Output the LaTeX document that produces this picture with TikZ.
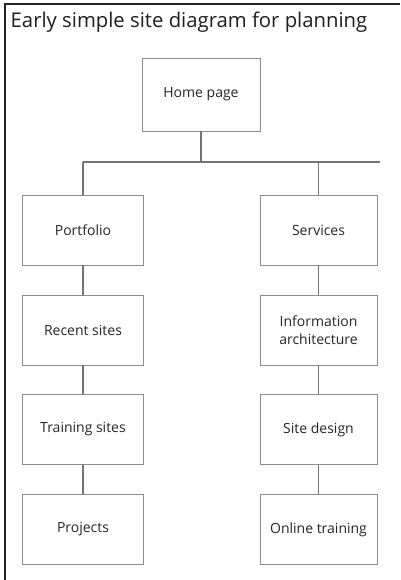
\documentclass[tikz,border=0pt]{standalone}
\usepackage{fontspec}
\setmainfont{Open Sans}
\begin{document}
\begin{tikzpicture}[x=1pt,y=-1pt,
  pagebox/.style={draw=black!45, line width=0.9pt, fill=white, inner sep=2pt,
    align=center, text=black!85, font=\fontsize{14}{16}\selectfont},
  link/.style={draw=black!55, line width=1.2pt},
  frame/.style={draw=black!85, line width=1.4pt}]
\useasboundingbox (0,0) rectangle (400,580);
\fill[white] (0,0) rectangle (400,580);
% outer frame (top and left edges)
\draw[frame] (5,580) -- (5,4) -- (400,4);
% title
\node[anchor=base west, inner sep=0pt, text=black!88,
  font=\fontsize{20.3}{24}\selectfont] (title) at (10.5,28) {Early simple site diagram for planning};
% pages
\node[pagebox, minimum width=118pt, minimum height=73pt] (home) at (201,94.5) {Home page};
\node[pagebox, minimum width=121pt, minimum height=70pt] (portfolio) at (83,230) {Portfolio};
\node[pagebox, minimum width=121pt, minimum height=70pt] (recent) at (83,330) {Recent sites};
\node[pagebox, minimum width=121pt, minimum height=70pt] (training) at (83,429.5) {Training sites};
\node[pagebox, minimum width=121pt, minimum height=70pt] (projects) at (83,529.5) {Projects};
\node[pagebox, minimum width=117pt, minimum height=70pt] (services) at (318.5,230) {Services};
\node[pagebox, minimum width=117pt, minimum height=70pt, font=\fontsize{14}{18}\selectfont] (ia) at (318.5,330) {Information\\architecture};
\node[pagebox, minimum width=117pt, minimum height=70pt] (design) at (318.5,429.5) {Site design};
\node[pagebox, minimum width=117pt, minimum height=70pt] (online) at (318.5,529.5) {Online training};
% branch rail
\coordinate (hub) at (201,162);
\coordinate (railL) at (83,162);
\coordinate (railR) at (318.5,162);
\coordinate (railEnd) at (380,162);
\draw[link] (home.south) -- (hub);
\draw[link] (railL) -- (railEnd);
\draw[link] (railL) -- (portfolio.north);
\draw[link] (railR) -- (services.north);
% left column
\draw[link] (portfolio.south) -- (recent.north);
\draw[link] (recent.south) -- (training.north);
\draw[link] (training.south) -- (projects.north);
% right column
\draw[link] (services.south) -- (ia.north);
\draw[link] (ia.south) -- (design.north);
\draw[link] (design.south) -- (online.north);
\end{tikzpicture}
\end{document}
